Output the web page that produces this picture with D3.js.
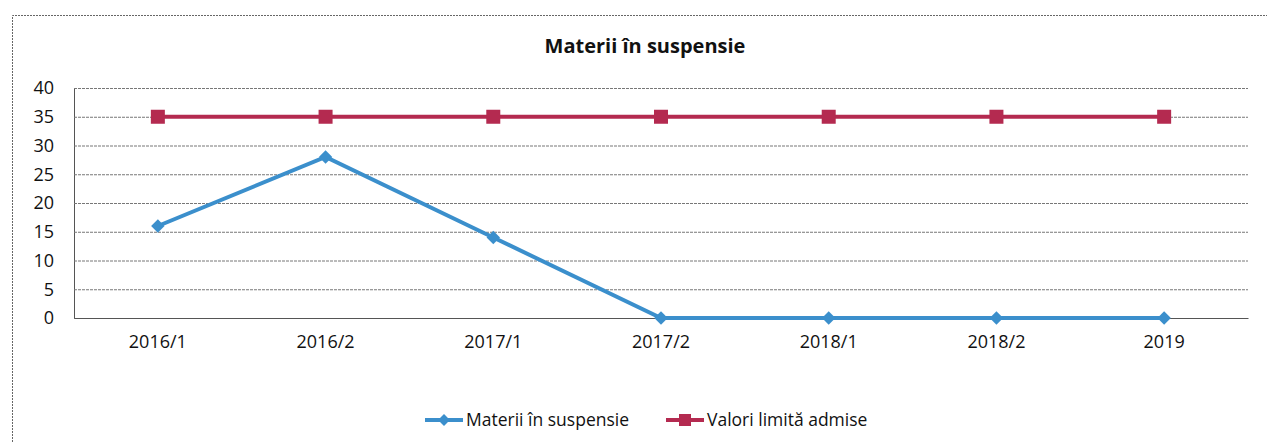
<!DOCTYPE html>
<html><head><meta charset="utf-8">
<script src="https://cdn.jsdelivr.net/npm/d3@7"></script>
<style>body{margin:0;background:#fff}svg{display:block}text{font-family:"Open Sans","Noto Sans",sans-serif;fill:#111}</style>
</head><body><svg id="c" width="1267" height="442"></svg>
<script>
const categories = ["2016/1","2016/2","2017/1","2017/2","2018/1","2018/2","2019"];
const suspensie = [16, 28, 14, 0, 0, 0, 0];
const limita = [35, 35, 35, 35, 35, 35, 35];
const yTicks = [0,5,10,15,20,25,30,35,40];
const seriesNames = ["Materii în suspensie","Valori limită admise"];
const title = "Materii în suspensie";

const svg = d3.select("#c");
const blue = "#3b8fcc", red = "#b42a50";
const L = 74, R = 1248, T = 88, B = 318;
const x = d3.scaleBand().domain(categories).range([L, R]);
const y = d3.scaleLinear().domain([0, 40]).range([B, T]);

// outer border
svg.append("path").attr("d", `M12.5,442 V15.5 H1267`).attr("fill","none").attr("stroke","#666").attr("stroke-width",1).attr("stroke-dasharray","2,1");

svg.append("text").attr("x", 645).attr("y", 53).attr("text-anchor","middle")
  .attr("font-size", 20).attr("font-weight","bold").text(title);

// gridlines
const yAxis = d3.axisLeft(y).tickValues(yTicks).tickSize(-(R-L)).tickSizeOuter(0);
const gy = svg.append("g").attr("transform",`translate(${L},0)`).call(yAxis);
gy.select(".domain").attr("stroke","#555");
gy.selectAll(".tick line").attr("stroke","#777").attr("stroke-width",1).attr("stroke-dasharray","3,1");
gy.selectAll(".tick text").style("font-size","18px").attr("fill","#111").attr("x",-20);

const xAxis = d3.axisBottom(x).tickSize(0).tickPadding(17);
const gx = svg.append("g").attr("transform",`translate(0,${B})`).call(xAxis);
gx.select(".domain").attr("stroke","#555");
gx.selectAll(".tick text").style("font-size","18px").attr("fill","#111");

const cx = d => x(d) + x.bandwidth()/2;
const line = d3.line().x((d,i)=>cx(categories[i])).y(d=>y(d));
const diamond = d3.symbol().type(d3.symbolDiamond2 || d3.symbolDiamond).size(115);
const diamondSm = d3.symbol().type(d3.symbolDiamond2 || d3.symbolDiamond).size(90);

svg.append("path").datum(limita).attr("d", line).attr("fill","none").attr("stroke",red).attr("stroke-width",4);
svg.selectAll(".sq").data(limita).enter().append("rect")
  .attr("x",(d,i)=>cx(categories[i])-7).attr("y",d=>y(d)-7).attr("width",14).attr("height",14).attr("fill",red);

svg.append("path").datum(suspensie).attr("d", line).attr("fill","none").attr("stroke",blue).attr("stroke-width",4);
svg.selectAll(".dm").data(suspensie).enter().append("path")
  .attr("d", diamond)
  .attr("transform",(d,i)=>`translate(${cx(categories[i])},${y(d)})`).attr("fill",blue);

// legend
const lg = svg.append("g");
lg.append("line").attr("x1",425).attr("x2",463).attr("y1",420).attr("y2",420).attr("stroke",blue).attr("stroke-width",4);
lg.append("path").attr("d", diamondSm).attr("transform","translate(444,420)").attr("fill",blue);
lg.append("text").attr("x",466).attr("y",426).style("font-size","17.5px").text(seriesNames[0]);
lg.append("line").attr("x1",666).attr("x2",704).attr("y1",420).attr("y2",420).attr("stroke",red).attr("stroke-width",4);
lg.append("rect").attr("x",679).attr("y",414).attr("width",12).attr("height",12).attr("fill",red);
lg.append("text").attr("x",707).attr("y",426).style("font-size","17.5px").text(seriesNames[1]);
</script></body></html>
